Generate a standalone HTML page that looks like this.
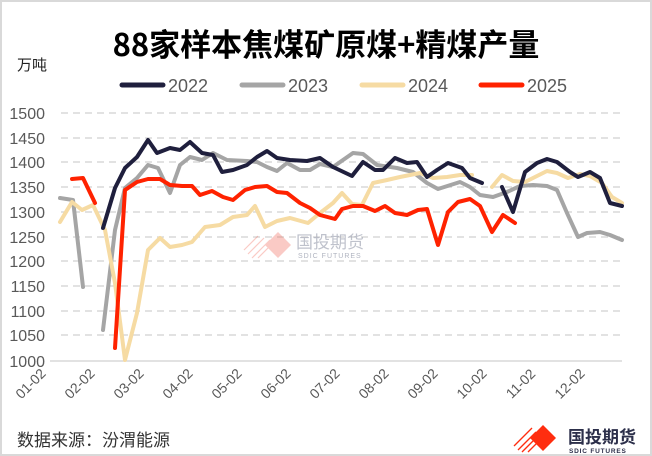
<!DOCTYPE html>
<html><head><meta charset="utf-8"><style>
body{margin:0;background:#fff;}
svg{display:block;font-family:"Liberation Sans","Noto Sans CJK SC",sans-serif;}
</style></head><body>
<svg width="652" height="456" viewBox="0 0 652 456" xmlns="http://www.w3.org/2000/svg">
<rect x="1" y="1" width="650" height="454" fill="#fff" stroke="#d9d9d9" stroke-width="2"/>
<text x="326" y="56" text-anchor="middle" font-size="31" font-weight="bold" fill="#000" font-family="'Noto Sans CJK SC',sans-serif">88家样本焦煤矿原煤+精煤产量</text>
<text x="17" y="70" font-size="15" fill="#222" font-family="'Noto Sans CJK SC',sans-serif">万吨</text>
<g font-size="18" fill="#595959">
<line x1="122" y1="85" x2="163" y2="85" stroke="#1f1f3d" stroke-width="5" stroke-linecap="round"/><text x="168" y="92">2022</text>
<line x1="242" y1="85" x2="283" y2="85" stroke="#a5a5a5" stroke-width="5" stroke-linecap="round"/><text x="288" y="92">2023</text>
<line x1="362" y1="85" x2="403" y2="85" stroke="#f6dba3" stroke-width="5" stroke-linecap="round"/><text x="408" y="92">2024</text>
<line x1="481" y1="85" x2="522" y2="85" stroke="#ff2200" stroke-width="5" stroke-linecap="round"/><text x="527" y="92">2025</text>
</g>
<g stroke="#d0d0d0" stroke-width="1.2" stroke-dasharray="7,5">
<line x1="61" y1="113" x2="622" y2="113"/><line x1="61" y1="138" x2="622" y2="138"/><line x1="61" y1="162" x2="622" y2="162"/><line x1="61" y1="187" x2="622" y2="187"/><line x1="61" y1="212" x2="622" y2="212"/><line x1="61" y1="237" x2="622" y2="237"/><line x1="61" y1="261" x2="622" y2="261"/><line x1="61" y1="286" x2="622" y2="286"/><line x1="61" y1="311" x2="622" y2="311"/><line x1="61" y1="335" x2="622" y2="335"/>
</g>
<line x1="50" y1="361" x2="622" y2="361" stroke="#d0d0d0" stroke-width="1.2"/>
<g font-size="16" fill="#595959" text-anchor="end">
<text x="45" y="119">1500</text><text x="45" y="144">1450</text><text x="45" y="168">1400</text><text x="45" y="193">1350</text><text x="45" y="218">1300</text><text x="45" y="243">1250</text><text x="45" y="267">1200</text><text x="45" y="292">1150</text><text x="45" y="317">1100</text><text x="45" y="341">1050</text><text x="45" y="367">1000</text>
</g>
<g font-size="14" fill="#595959" text-anchor="middle">
<text transform="translate(34,387) rotate(-45)">01-02</text>
<text transform="translate(83,387) rotate(-45)">02-02</text>
<text transform="translate(132,387) rotate(-45)">03-02</text>
<text transform="translate(181,387) rotate(-45)">04-02</text>
<text transform="translate(230,387) rotate(-45)">05-02</text>
<text transform="translate(279,387) rotate(-45)">06-02</text>
<text transform="translate(328,387) rotate(-45)">07-02</text>
<text transform="translate(377,387) rotate(-45)">08-02</text>
<text transform="translate(426,387) rotate(-45)">09-02</text>
<text transform="translate(475,387) rotate(-45)">10-02</text>
<text transform="translate(524,387) rotate(-45)">11-02</text>
<text transform="translate(573,387) rotate(-45)">12-02</text>
</g>
<!-- watermark -->
<g opacity="0.35">
<path d="M278 232 l13 13 l-13 13 l-13 -13z" fill="#f26b5b"/>
<g stroke="#f26b5b" stroke-width="1.2"><line x1="244" y1="250" x2="258" y2="236"/><line x1="248" y1="254" x2="264" y2="238"/><line x1="252" y1="258" x2="270" y2="240"/><line x1="258" y1="258" x2="274" y2="242"/></g>
</g>
<text x="296" y="248" font-size="17" fill="#b0b4c0" opacity="0.8" font-family="'Noto Sans CJK SC',sans-serif">国投期货</text>
<text x="298" y="258" font-size="7" fill="#b0b4c0" letter-spacing="1">SDIC FUTURES</text>
<g fill="none" stroke-width="4" stroke-linejoin="round" stroke-linecap="round">
<polyline stroke="#a5a5a5" points="60,198 73,200 83,287"/>
<polyline stroke="#a5a5a5" points="103,330 115,230 125,188 137,178 148,165 158,168 170,193 180,165 190,157 202,160 213,153 227,160 247,161 257,162 267,167 277,171 287,163 300,170 310,170 320,164 333,167 353,153 363,154 377,165 397,168 413,172 427,183 438,189 460,182 470,187 480,195 493,197 507,192 520,186 533,185 547,186 557,190 567,213 578,237 587,233 600,232 610,235 622,240"/>
<polyline stroke="#f6dba3" points="60,222 72,202 82,210 93,205 105,230 115,283 125,360 137,313 148,250 160,238 170,247 182,245 192,242 205,227 220,225 233,217 247,215 255,206 265,227 277,221 290,218 308,223 320,213 333,203 342,193 352,204 362,205 373,183 387,180 400,177 420,173 433,178 447,177 460,175 472,175"/>
<polyline stroke="#f6dba3" points="492,187 502,175 513,181 525,182 537,176 547,171 557,173 568,178 580,174 590,176 602,183 612,197 622,203"/>
<polyline stroke="#1f1f3d" points="103,228 115,188 125,168 137,157 148,140 157,153 170,148 180,150 190,142 202,153 213,155 222,172 233,170 247,165 257,157 267,151 277,158 290,160 307,161 320,158 333,167 352,176 363,162 375,170 383,170 395,158 407,163 417,162 427,177 437,170 448,163 462,168 470,178 482,183"/>
<polyline stroke="#1f1f3d" points="502,187 513,212 525,172 537,163 547,159 557,162 570,172 578,177 590,172 600,178 610,203 622,206"/>
<polyline stroke="#ff2200" points="72,179 83,178 95,203"/>
<polyline stroke="#ff2200" points="115,348 125,190 137,182 148,179 160,179 170,185 182,186 192,186 200,195 212,191 223,197 233,200 245,190 255,187 267,186 277,192 287,193 300,203 310,208 320,215 335,219 342,209 353,206 363,206 375,211 385,206 395,213 407,215 418,210 427,209 438,245 448,212 458,202 470,199 480,206 492,232 503,215 515,223"/>
</g>
<text x="17" y="446" font-size="17" fill="#333" font-family="'Noto Sans CJK SC',sans-serif">数据来源：汾渭能源</text>
<path d="M543 425 l13 13 l-13 13 l-13 -13z" fill="#ff2d0f"/>
<g stroke="#ff2d0f" stroke-width="1.3"><line x1="514" y1="446" x2="532" y2="428"/><line x1="518" y1="450" x2="536" y2="432"/><line x1="522" y1="452" x2="538" y2="436"/><line x1="528" y1="452" x2="540" y2="440"/></g>
<text x="568" y="443" font-size="17" font-weight="bold" fill="#2c2f4a" font-family="'Noto Sans CJK SC',sans-serif">国投期货</text>
<text x="569" y="453" font-size="6.5" font-weight="bold" fill="#2c2f4a" letter-spacing="0.8">SDIC FUTURES</text>
</svg>
</body></html>
